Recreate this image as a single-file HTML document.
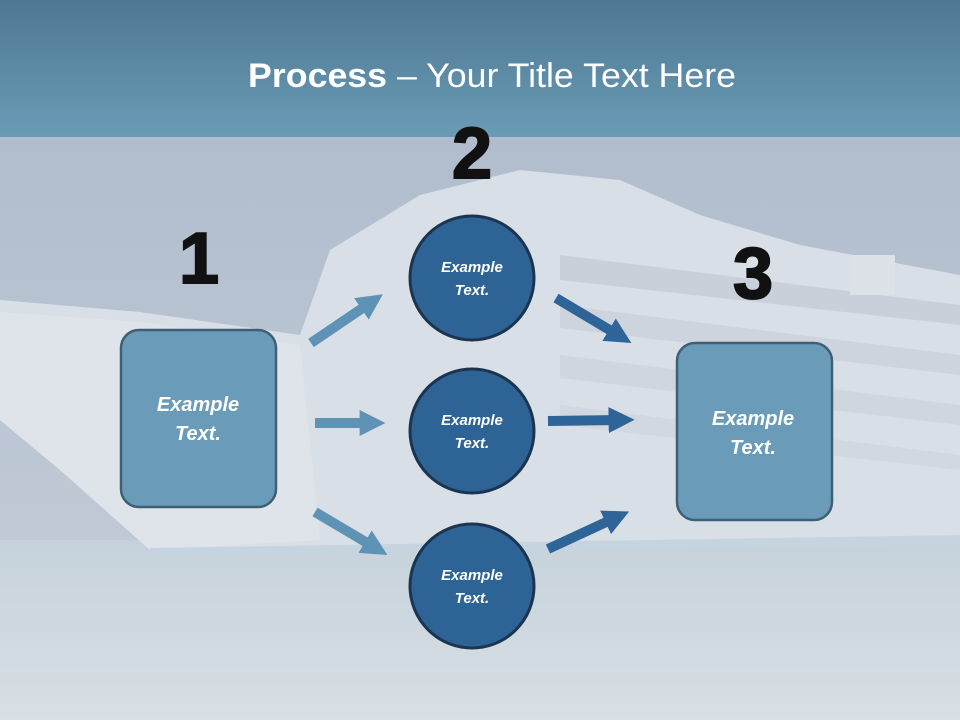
<!DOCTYPE html>
<html><head><meta charset="utf-8"><style>
html,body{margin:0;padding:0;width:960px;height:720px;overflow:hidden;}
svg{display:block;}
</style></head><body>
<svg width="960" height="720" viewBox="0 0 960 720" xmlns="http://www.w3.org/2000/svg">
<defs>
<linearGradient id="hdr" x1="0" y1="0" x2="0" y2="1">
<stop offset="0" stop-color="#4d7891"/><stop offset="1" stop-color="#6a9bb6"/></linearGradient>
<linearGradient id="sky" x1="0" y1="0" x2="0" y2="1">
<stop offset="0" stop-color="#b1bdcd"/><stop offset="1" stop-color="#c6cfda"/></linearGradient>
<linearGradient id="sea" x1="0" y1="0" x2="0" y2="1">
<stop offset="0" stop-color="#c6d2db"/><stop offset="1" stop-color="#d8dfe5"/></linearGradient>
<marker id="ah1" viewBox="0 0 10 10" refX="4" refY="5" markerWidth="2.6" markerHeight="2.8" orient="auto"><path d="M0,0 L10,5 L0,10 z" fill="#5f93b6"/></marker>
<marker id="ah2" viewBox="0 0 10 10" refX="4" refY="5" markerWidth="2.6" markerHeight="2.8" orient="auto"><path d="M0,0 L10,5 L0,10 z" fill="#2f6498"/></marker>
</defs>
<rect x="0" y="137" width="960" height="583" fill="url(#sky)"/>
<rect x="0" y="540" width="960" height="180" fill="url(#sea)"/>
<path d="M0,300 L140,312 L300,335 L330,250 L420,195 L520,170 L620,180 L700,215 L800,245 L960,275 L960,540 L150,550 L60,470 L0,420 z" fill="#d9dfe6"/>
<path d="M0,312 L140,322 L300,345 L320,540 L150,550 L60,470 L0,420z" fill="#dfe4ea"/>
<path d="M560,255 L960,305 L960,325 L560,280z" fill="#c9d0da"/>
<path d="M560,305 L960,355 L960,375 L560,328z" fill="#cdd4dd"/>
<path d="M560,355 L960,405 L960,425 L560,378z" fill="#d0d6de"/>
<path d="M560,405 L960,455 L960,470 L560,425z" fill="#d2d8df"/>
<rect x="850" y="255" width="45" height="40" fill="#dde2e8"/>
<path d="M150,548 L960,535 L960,545 L150,556z" fill="#c6d4e0"/>
<rect x="0" y="0" width="960" height="137" fill="url(#hdr)"/>
<text x="492" y="87" text-anchor="middle" font-family="Liberation Sans, sans-serif" font-size="34" fill="#fff" textLength="488" lengthAdjust="spacingAndGlyphs"><tspan font-weight="bold">Process</tspan> – Your Title Text Here</text>
<g font-family="Liberation Sans, sans-serif" font-weight="bold" font-size="72" fill="#111" text-anchor="middle" stroke="#111" stroke-width="2">
<text x="199" y="283">1</text><text x="472" y="178">2</text><text x="753" y="298">3</text></g>
<g stroke-width="10" fill="none">
<line x1="311" y1="343" x2="370" y2="303" stroke="#5f93b6" marker-end="url(#ah1)"/>
<line x1="315" y1="423" x2="370" y2="423" stroke="#5f93b6" marker-end="url(#ah1)"/>
<line x1="315" y1="512" x2="374" y2="547" stroke="#5f93b6" marker-end="url(#ah1)"/>
<line x1="556" y1="298" x2="618" y2="335" stroke="#2f6498" marker-end="url(#ah2)"/>
<line x1="548" y1="421" x2="619" y2="420" stroke="#2f6498" marker-end="url(#ah2)"/>
<line x1="548" y1="549" x2="615" y2="518" stroke="#2f6498" marker-end="url(#ah2)"/>
</g>
<rect x="121" y="330" width="155" height="177" rx="18" fill="#6a9cba" stroke="#3e5f74" stroke-width="2.5"/>
<rect x="677" y="343" width="155" height="177" rx="18" fill="#6a9cba" stroke="#3e5f74" stroke-width="2.5"/>
<g fill="#2e6396" stroke="#1b3550" stroke-width="3">
<circle cx="472" cy="278" r="62"/><circle cx="472" cy="431" r="62"/><circle cx="472" cy="586" r="62"/></g>
<g font-family="Liberation Sans, sans-serif" font-weight="bold" font-style="italic" fill="#fff" text-anchor="middle">
<g font-size="20"><text x="198" y="411">Example</text><text x="198" y="440">Text.</text>
<text x="753" y="425">Example</text><text x="753" y="454">Text.</text></g>
<g font-size="15"><text x="472" y="272">Example</text><text x="472" y="295">Text.</text>
<text x="472" y="425">Example</text><text x="472" y="448">Text.</text>
<text x="472" y="580">Example</text><text x="472" y="603">Text.</text></g>
</g>
</svg>
</body></html>
